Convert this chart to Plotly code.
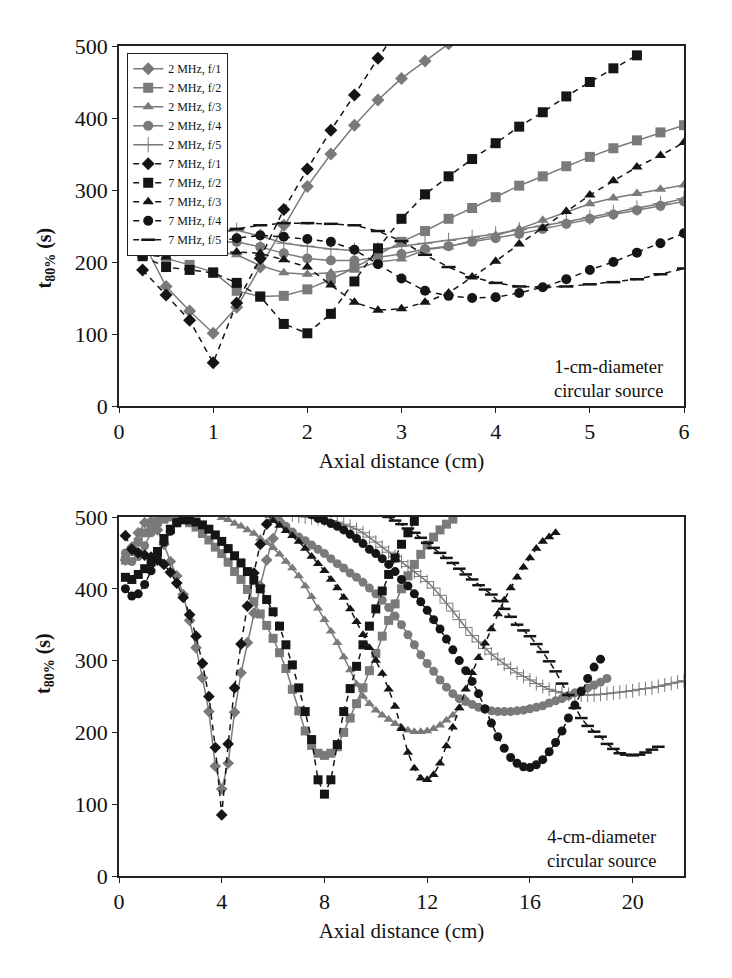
import numpy as np
import plotly.graph_objects as go

# ------------------------------------------------------------
# data (t80% in seconds)
# x step is 0.25 cm in both panels
# ------------------------------------------------------------
STEP = 0.25

# --- top panel: 1-cm-diameter source, x starts at 0.25 cm ---
top_2mhz_f1 = [230, 166, 132, 101, 137, 193, 251, 305, 350, 390, 425, 455, 479, 503]
top_2mhz_f2 = [222, 205, 196, 186, 160, 152, 153, 162, 176, 192, 210, 228, 243, 260, 275,
               290, 306, 319, 333, 346, 358, 369, 380, 390]
top_2mhz_f3 = [240, 222, 218, 215, 210, 195, 185, 183, 185, 190, 200, 204, 217, 221, 230,
               237, 246, 258, 270, 281, 289, 295, 301, 307]
top_2mhz_f4 = [232, 222, 225, 226, 228, 221, 212, 205, 202, 202, 206, 211, 218, 222, 228,
               233, 239, 246, 253, 260, 266, 272, 278, 284]
top_2mhz_f5 = [245, 234, 235, 240, 244, 236, 226, 222, 218, 216, 217, 222, 226, 230, 234,
               239, 245, 250, 256, 262, 269, 275, 281, 288]
top_7mhz_f1 = [189, 154, 119, 60, 143, 205, 273, 329, 383, 432, 483, 530]
top_7mhz_f2 = [208, 193, 189, 185, 171, 152, 114, 101, 128, 173, 219, 260, 294, 319, 343,
               365, 388, 408, 430, 450, 469, 487]
top_7mhz_f3 = [210, 207, 212, 212, 214, 212, 203, 193, 168, 144, 133, 135, 144, 157, 179,
               201, 225, 247, 270, 293, 313, 332, 348, 366]
top_7mhz_f4 = [215, 214, 220, 228, 233, 237, 235, 232, 228, 217, 197, 177, 160, 153, 150,
               151, 157, 165, 176, 189, 200, 213, 226, 240]
top_7mhz_f5 = [220, 222, 230, 240, 246, 251, 254, 254, 253, 251, 243, 229, 210, 193, 179,
               171, 166, 165, 166, 169, 172, 176, 183, 191]

# --- bottom panel: 4-cm-diameter source, (start x, values) segments ---
bot_2mhz_f1 = (0.25, [440, 458, 478, 492, 494, 482, 462, 438, 418, 392, 356, 318, 276, 229,
                      153, 121, 157, 228, 283, 325, 366, 404, 440, 470, 494, 512])
bot_7mhz_f1 = (0.25, [474, 455, 450, 447, 444, 440, 434, 423, 408, 388, 364, 334, 296, 250,
                      179, 85, 184, 262, 323, 376, 422, 462, 490, 512])
bot_2mhz_f2 = (0.25, [440, 452, 465, 478, 487, 493, 497, 500, 500, 497, 492, 486, 477, 468,
                      458, 449, 437, 424, 413, 399, 382, 365, 349, 331, 311, 289, 260, 230,
                      202, 182, 171, 168, 171, 180, 200, 220, 240, 262, 286, 310, 334, 356,
                      379, 400, 418, 434, 448, 461, 472, 482, 490, 497])
bot_7mhz_f2 = (0.25, [416, 413, 420, 428, 437, 452, 470, 483, 492, 496, 496, 493, 489, 483,
                      475, 466, 456, 446, 436, 424, 412, 400, 385, 368, 348, 322, 294, 262,
                      229, 190, 134, 114, 134, 183, 229, 261, 292, 322, 348, 372, 397, 420,
                      443, 462, 478, 494])
bot_2mhz_f3 = (3.75, [505, 499, 496, 491, 487, 482, 477, 470, 464, 457, 448, 438, 429, 418,
                      404, 389, 373, 357, 341, 325, 305, 287, 267, 250, 240, 231, 224, 218,
                      212, 207, 203, 201, 201, 202, 205, 210, 217, 224, 234, 246])
bot_7mhz_f3 = (5.75, [505, 495, 488, 481, 474, 466, 456, 445, 435, 425, 413, 401, 388, 372,
                      354, 336, 318, 300, 282, 260, 236, 205, 172, 150, 136, 134, 141, 157,
                      181, 207, 234, 260, 283, 304, 324, 344, 365, 384, 401, 416, 430, 443,
                      456, 466, 472, 478])
bot_2mhz_f4_near = (0.25, [450, 438, 445, 460, 478, 495, 510])
bot_2mhz_f4 = (5.75, [505, 498, 493, 487, 479, 472, 467, 461, 455, 449, 442, 435, 429, 422,
                      416, 409, 401, 393, 384, 374, 362, 350, 336, 322, 308, 296, 285, 273,
                      263, 254, 247, 243, 239, 235, 232, 230, 229, 229, 229, 230, 231, 233,
                      235, 237, 241, 244, 247, 251, 255, 258, 262, 266, 270, 275])
bot_7mhz_f4_near = (0.25, [400, 390, 393, 406, 425, 446, 465, 480, 492, 499, 505])
bot_7mhz_f4 = (7.5, [503, 498, 495, 491, 487, 482, 476, 470, 463, 455, 449, 442, 434, 424,
                     413, 404, 393, 382, 370, 357, 344, 330, 315, 300, 286, 271, 254, 233,
                     213, 194, 178, 165, 157, 152, 151, 155, 162, 173, 186, 202, 220, 238,
                     257, 275, 291, 302])
bot_2mhz_f5 = (6.75, [503, 501, 500, 499, 498, 497, 495, 493, 490, 487, 483, 478, 472, 465,
                      458, 451, 445, 438, 431, 424, 417, 410, 401, 391, 380, 369, 357, 346,
                      335, 326, 317, 309, 302, 295, 289, 283, 278, 273, 268, 264, 260, 257,
                      255, 253, 252, 252, 252, 252, 253, 254, 255, 256, 257, 258, 260, 261,
                      262, 264, 266, 268, 270, 272])
bot_7mhz_f5 = (10.5, [500, 495, 490, 484, 478, 471, 464, 457, 450, 443, 436, 428, 420, 413,
                      405, 399, 392, 383, 372, 361, 350, 342, 334, 323, 312, 299, 285, 268,
                      252, 234, 220, 209, 201, 194, 184, 177, 171, 169, 168, 169, 172, 176,
                      180])

# ------------------------------------------------------------
# styles
# ------------------------------------------------------------
FONT = "Liberation Serif"
GRAY = "#7a7a7a"
BLACK = "#151515"

SERIES = [
    # name, 2MHz?, symbol, top values, bottom segments
    ("2 MHz, f/1", True, "diamond", top_2mhz_f1, [bot_2mhz_f1]),
    ("2 MHz, f/2", True, "square", top_2mhz_f2, [bot_2mhz_f2]),
    ("2 MHz, f/3", True, "triangle-up", top_2mhz_f3, [bot_2mhz_f3]),
    ("2 MHz, f/4", True, "circle", top_2mhz_f4, [bot_2mhz_f4_near, bot_2mhz_f4]),
    ("2 MHz, f/5", True, "cross-thin", top_2mhz_f5, [bot_2mhz_f5]),
    ("7 MHz, f/1", False, "diamond", top_7mhz_f1, [bot_7mhz_f1]),
    ("7 MHz, f/2", False, "square", top_7mhz_f2, [bot_7mhz_f2]),
    ("7 MHz, f/3", False, "triangle-up", top_7mhz_f3, [bot_7mhz_f3]),
    ("7 MHz, f/4", False, "circle", top_7mhz_f4, [bot_7mhz_f4_near, bot_7mhz_f4]),
    ("7 MHz, f/5", False, "line-ew", top_7mhz_f5, [bot_7mhz_f5]),
]


def seg_xy(segments):
    xs, ys = [], []
    for x0, vals in segments:
        if xs:
            xs.append(None)
            ys.append(None)
        xs += list(x0 + STEP * np.arange(len(vals)))
        ys += vals
    return xs, ys


def style(is2, symbol, size):
    col = GRAY if is2 else BLACK
    line = dict(color=col, width=1.5, dash="solid" if is2 else "6px,5px")
    marker = dict(symbol=symbol, size=size, color=col)
    if symbol == "cross-thin":
        marker.update(size=size + 1, line=dict(color=col, width=1))
    elif symbol == "line-ew":
        marker.update(size=size, line=dict(color=col, width=2.5))
    return line, marker


fig = go.Figure()

for name, is2, symbol, top_vals, bot_segs in SERIES:
    line, marker = style(is2, symbol, 10)
    fig.add_trace(go.Scatter(
        x=list(STEP * np.arange(1, len(top_vals) + 1)), y=top_vals,
        mode="lines+markers", name=name, line=line, marker=marker,
        xaxis="x", yaxis="y", showlegend=True,
    ))
    bx, by = seg_xy(bot_segs)
    line, marker = style(is2, symbol, 9)
    fig.add_trace(go.Scatter(
        x=bx, y=by, mode="lines+markers", name=name, line=line, marker=marker,
        xaxis="x2", yaxis="y2", showlegend=False,
    ))

# ------------------------------------------------------------
# layout: plot area set by margins (pixels); the page adds an 8px body margin
# ------------------------------------------------------------
W, H = 732, 978
ML, MR, MT, MB = 111, 56, 38, 110
PW = W - ML - MR
PH = H - MT - MB
TOP_DOM = [(876 - 406) / PH, 1]
BOT_DOM = [0, (876 - 517) / PH]

axis_common = dict(
    showline=True, linecolor="#222", linewidth=1.5, mirror=True,
    ticks="outside", ticklen=5, tickwidth=1.2, tickcolor="#222",
    showgrid=False, zeroline=False, automargin=False,
    tickfont=dict(family=FONT, size=22, color="#111"),
)
# second set of axes only to draw the inner half of the crossing ticks
inner_ticks = dict(
    showline=False, ticks="inside", ticklen=5, tickwidth=1.2, tickcolor="#222",
    showticklabels=False, showgrid=False, zeroline=False, automargin=False,
)
title_font = dict(family=FONT, size=21)

fig.update_layout(
    width=W, height=H, autosize=False,
    margin=dict(l=ML, r=MR, t=MT, b=MB, autoexpand=False),
    paper_bgcolor="white", plot_bgcolor="white",
    font=dict(family=FONT, color="#111"),
    xaxis=dict(domain=[0, 1], anchor="y", range=[0, 6], dtick=1,
               title=dict(text="Axial distance (cm)", font=title_font, standoff=10),
               **axis_common),
    yaxis=dict(domain=TOP_DOM, anchor="x", range=[0, 500], dtick=100, **axis_common),
    xaxis2=dict(domain=[0, 1], anchor="y2", range=[0, 22], dtick=4,
                title=dict(text="Axial distance (cm)", font=title_font, standoff=10),
                **axis_common),
    yaxis2=dict(domain=BOT_DOM, anchor="x2", range=[0, 500], dtick=100, **axis_common),
    xaxis3=dict(overlaying="x", anchor="y", range=[0, 6], dtick=1, **inner_ticks),
    yaxis3=dict(overlaying="y", anchor="x", range=[0, 500], dtick=100, **inner_ticks),
    xaxis4=dict(overlaying="x2", anchor="y2", range=[0, 22], dtick=4, **inner_ticks),
    yaxis4=dict(overlaying="y2", anchor="x2", range=[0, 500], dtick=100, **inner_ticks),
    legend=dict(
        x=(119 - ML) / PW, y=1 - (45 - MT) / PH, xanchor="left", yanchor="top",
        bordercolor="#222", borderwidth=1.2, bgcolor="white",
        font=dict(family=FONT, size=12, color="#111"),
        tracegroupgap=0, itemwidth=30,
    ),
    showlegend=True,
)

# y-axis titles and source labels
for ycen in [(TOP_DOM[0] + TOP_DOM[1]) / 2, (BOT_DOM[0] + BOT_DOM[1]) / 2]:
    fig.add_annotation(
        xref="paper", yref="paper", x=(37 - ML) / PW, y=ycen, xanchor="center",
        text="<b>t<sub>80%</sub> (s)</b>", textangle=-90, showarrow=False,
        font=dict(family=FONT, size=20, color="#111"),
    )

fig.add_annotation(
    xref="x", yref="y", x=5.2, y=38,
    text="1-cm-diameter<br>circular source", showarrow=False, align="center",
    font=dict(family=FONT, size=18.5, color="#111"),
)
fig.add_annotation(
    xref="x2", yref="y2", x=18.8, y=37,
    text="4-cm-diameter<br>circular source", showarrow=False, align="center",
    font=dict(family=FONT, size=18.5, color="#111"),
)

fig.write_html("out.html")
